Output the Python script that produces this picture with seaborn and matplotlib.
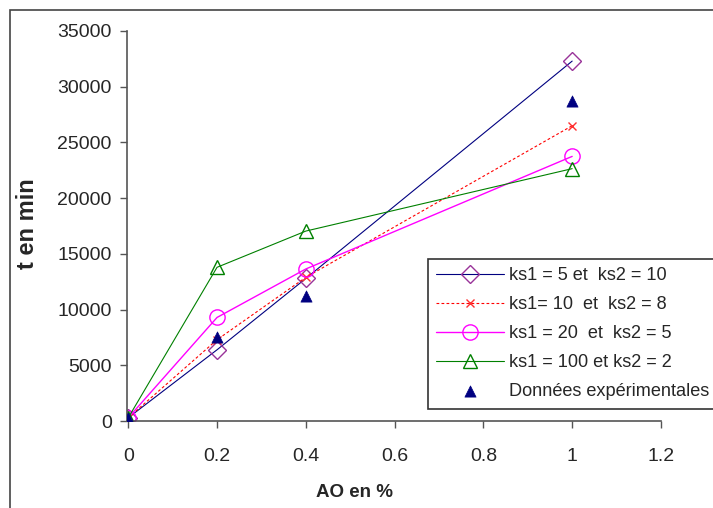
import numpy as np
import matplotlib.pyplot as plt
import seaborn as sns
from matplotlib.patches import Rectangle

ao = [0, 0.2, 0.4, 1]
ks_5_10 = [300, 6400, 12800, 32300]
ks_10_8 = [300, 7300, 12900, 26500]
ks_20_5 = [300, 9300, 13650, 23750]
ks_100_2 = [300, 13800, 17050, 22650]
exp_vals = [300, 7550, 11200, 28750]

labels = ["ks1 = 5 et  ks2 = 10", "ks1= 10  et  ks2 = 8",
          "ks1 = 20  et  ks2 = 5", "ks1 = 100 et ks2 = 2",
          "Données expérimentales"]

sns.set_style("white")
plt.rcParams['font.family'] = ['Liberation Sans', 'DejaVu Sans']

fig = plt.figure(figsize=(7.13, 5.08), dpi=100)
ax = fig.add_axes([0.178, 0.171, 0.749, 0.768])

sns.lineplot(x=ao, y=ks_5_10, ax=ax, color="#000080", lw=0.8, marker="D",
             markersize=9, markerfacecolor="none", markeredgecolor="#993399",
             markeredgewidth=1.0, label=labels[0])
sns.lineplot(x=ao, y=ks_10_8, ax=ax, color="#ff0000", lw=0.8, linestyle=(0, (2.5, 2)),
             marker="x", markersize=6, markeredgecolor="#ff3030",
             markeredgewidth=1.0, label=labels[1])
sns.lineplot(x=ao, y=ks_20_5, ax=ax, color="#ff00ff", lw=1.0, marker="o",
             markersize=11, markerfacecolor="none", markeredgecolor="#ff00ff",
             markeredgewidth=1.0, label=labels[2])
sns.lineplot(x=ao, y=ks_100_2, ax=ax, color="#008000", lw=0.8, marker="^",
             markersize=10, markerfacecolor="none", markeredgecolor="#008000",
             markeredgewidth=1.0, label=labels[3])
sns.scatterplot(x=ao, y=exp_vals, ax=ax, color="#000080", marker="^", s=65,
                edgecolor="#000080", linewidth=0.5, label=labels[4], zorder=5)

ax.set_xlim(-0.003, 1.2)
ax.set_ylim(0, 35000)
ax.set_xticks([0, 0.2, 0.4, 0.6, 0.8, 1, 1.2])
ax.set_xticklabels(["0", "0.2", "0.4", "0.6", "0.8", "1", "1.2"])
ax.set_yticks(np.arange(0, 35001, 5000))
ax.tick_params(axis="both", labelsize=14, direction="out", length=5, width=1,
               color="#555555", pad=6, left=True, bottom=True)
ax.tick_params(axis="x", pad=14)
for side in ["top", "right"]:
    ax.spines[side].set_visible(False)
for side in ["left", "bottom"]:
    ax.spines[side].set_color("#555555")
    ax.spines[side].set_linewidth(1.2)

ax.set_xlabel("AO en %", fontsize=13.5, fontweight="bold")
ax.xaxis.set_label_coords(355 / 713, 1 - 484 / 508, transform=fig.transFigure)
ax.set_ylabel("t en min", fontsize=17, fontweight="bold")
ax.yaxis.set_label_coords(39 / 713, 1 - 224 / 508, transform=fig.transFigure)

leg = ax.legend(loc="upper left", bbox_to_anchor=(0.600, 0.491),
                bbox_transform=fig.transFigure, borderaxespad=0, fontsize=13.1,
                frameon=True, fancybox=False, framealpha=1, edgecolor="#333333",
                handlelength=3.7, handletextpad=0.3, labelspacing=0.66,
                borderpad=0.47)
leg.get_frame().set_linewidth(1.2)

fig.patches.append(Rectangle((10 / 713, -0.1), 1.2, 1 - 10 / 508 + 0.1,
                             transform=fig.transFigure, fill=False,
                             edgecolor="#444444", lw=1.2))

fig.savefig("out.png", dpi=100)
